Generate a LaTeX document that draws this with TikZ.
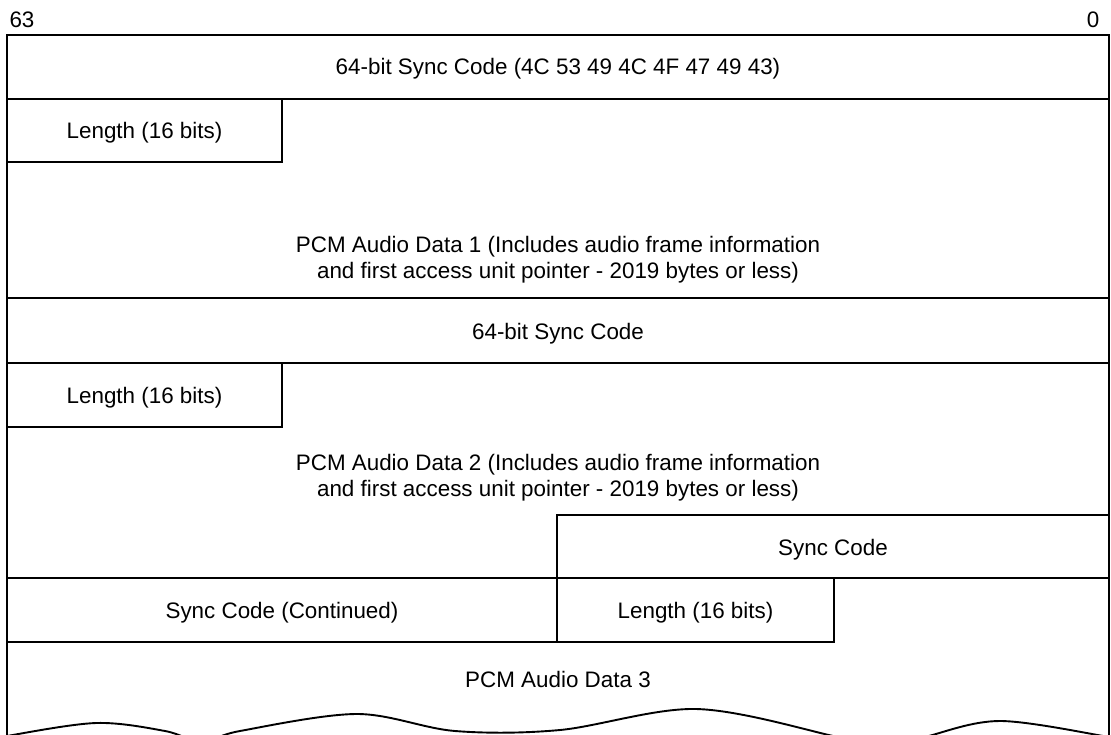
\documentclass[tikz,border=0pt]{standalone}
\usepackage{fontspec}
\setmainfont{Liberation Sans}
\begin{document}
\begin{tikzpicture}[x=1pt,y=-1pt,
  rule/.style={line width=1.9pt,line cap=rect},
  lbl/.style={inner sep=0pt,font=\fontsize{22.4}{26}\selectfont,align=center}]
\useasboundingbox (0,0) rectangle (1111,734);
\clip (0,0) rectangle (1111,734);
% horizontal lines
\draw[rule] (7,35) -- (1109,35);
\draw[rule] (7,99) -- (1109,99);
\draw[rule] (7,162) -- (282,162) -- (282,99);
\draw[rule] (7,298) -- (1109,298);
\draw[rule] (7,363) -- (1109,363);
\draw[rule] (7,427) -- (282,427) -- (282,363);
\draw[rule] (1109,515) -- (557,515) -- (557,642);
\draw[rule] (7,578) -- (1109,578);
\draw[rule] (7,642) -- (834,642) -- (834,578);
% sides
\draw[rule,line cap=butt] (7,35) -- (7,740);
\draw[rule,line cap=butt] (1109,35) -- (1109,740);
% wavy bottom
\draw[line width=1.9pt] plot[smooth,tension=0.55] coordinates {
  (0,739) (7,736) (96,723) (165,731) (202,742) (240,731) (357,714)
  (455,731) (560,730) (696,709) (833,736) (880,750) (925,737)
  (1000,721) (1109,737) (1115,739)};
% labels
\node[lbl] (b63) at (22,20) {63};
\node[lbl] (b0) at (1093,20) {0};
\node[lbl] (sync1) at (558,69) {64-bit Sync Code (4C 53 49 4C 4F 47 49 43)};
\node[lbl] (len1) at (144.5,133) {Length (16 bits)};
\node[lbl] (pcm1) at (558,260) {PCM Audio Data 1 (Includes audio frame information\\and first access unit pointer - 2019 bytes or less)};
\node[lbl] (sync2) at (558,334) {64-bit Sync Code};
\node[lbl] (len2) at (144.5,398) {Length (16 bits)};
\node[lbl] (pcm2) at (558,478) {PCM Audio Data 2 (Includes audio frame information\\and first access unit pointer - 2019 bytes or less)};
\node[lbl] (sync3) at (833,550) {Sync Code};
\node[lbl] (syncc) at (282,613) {Sync Code (Continued)};
\node[lbl] (len3) at (695.5,613) {Length (16 bits)};
\node[lbl] (pcm3) at (558,679) {PCM Audio Data 3};
\end{tikzpicture}
\end{document}
